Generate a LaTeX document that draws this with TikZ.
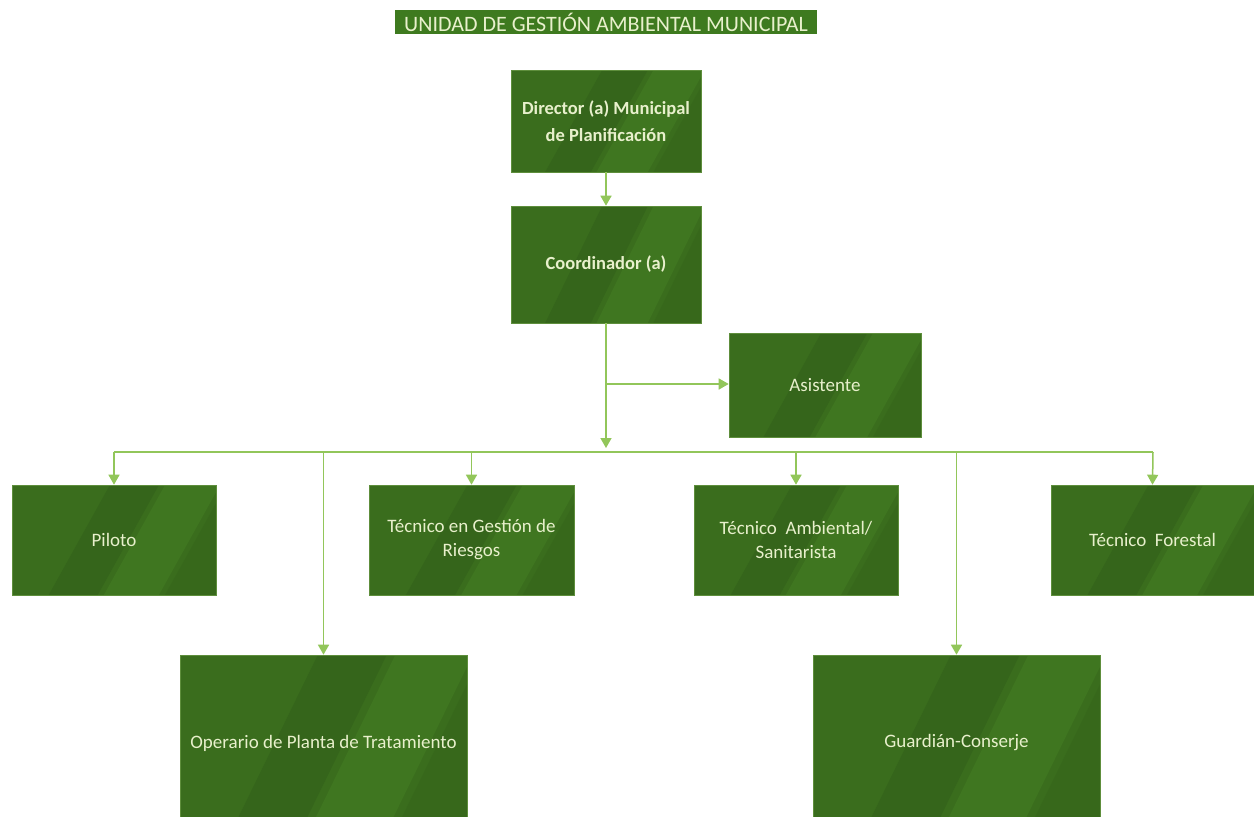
\documentclass[tikz,border=0pt]{standalone}
\usepackage{fontspec}
\setmainfont{Carlito}
\usetikzlibrary{calc,arrows.meta}
\definecolor{boxg}{HTML}{3A6D1D}
\definecolor{boxdark}{HTML}{35651B}
\definecolor{boxlight}{HTML}{3F7620}
\definecolor{edgeg}{HTML}{5E8E3C}
\definecolor{txtc}{HTML}{E8F0CC}
\definecolor{lineg}{HTML}{92C65A}
\definecolor{titleg}{HTML}{3E7A1F}
\tikzset{
  orgbox/.style={draw=edgeg, line width=0.6pt, fill=boxg, text=txtc,
    font=\fontsize{19}{24}\selectfont, align=center, inner sep=0pt,
    path picture={
      \fill[boxdark]
        ($(path picture bounding box.south west)!0.18!(path picture bounding box.south east)$) --
        ($(path picture bounding box.south west)!0.42!(path picture bounding box.south east)$) --
        ($(path picture bounding box.north west)!0.72!(path picture bounding box.north east)$) --
        ($(path picture bounding box.north west)!0.48!(path picture bounding box.north east)$) -- cycle;
      \fill[boxlight]
        ($(path picture bounding box.south west)!0.45!(path picture bounding box.south east)$) --
        ($(path picture bounding box.south west)!0.72!(path picture bounding box.south east)$) --
        ($(path picture bounding box.north west)!1.02!(path picture bounding box.north east)$) --
        ($(path picture bounding box.north west)!0.75!(path picture bounding box.north east)$) -- cycle;
      \fill[boxdark, opacity=0.6]
        ($(path picture bounding box.south west)!0.75!(path picture bounding box.south east)$) --
        ($(path picture bounding box.south west)!1.0!(path picture bounding box.south east)$) --
        ($(path picture bounding box.north west)!1.3!(path picture bounding box.north east)$) --
        ($(path picture bounding box.north west)!1.05!(path picture bounding box.north east)$) -- cycle;
    }},
  boldbox/.style={orgbox, font=\fontsize{18.5}{27}\selectfont\bfseries},
  bus/.style={draw=lineg, line width=1.5pt},
  conn/.style={draw=lineg, line width=1.5pt, -{Triangle[width=11pt,length=10pt]}},
}
\begin{document}
\begin{tikzpicture}[x=1pt,y=-1pt]
\useasboundingbox[fill=white] (0,0) rectangle (1254,817);

\node[fill=titleg, text=txtc, font=\fontsize{22}{24}\selectfont,
  minimum width=422pt, minimum height=24pt, inner sep=0pt] (title) at (606,22)
  {UNIDAD DE GESTIÓN AMBIENTAL MUNICIPAL};

\node[boldbox, minimum width=190pt, minimum height=102pt] (dir) at (606,121)
  {Director (a) Municipal\\de Planificación};
\node[boldbox, minimum width=190pt, minimum height=117pt] (coord) at (606,264.5)
  {Coordinador (a)};
\node[orgbox, minimum width=192pt, minimum height=104pt] (asis) at (825,385)
  {Asistente};

\node[orgbox, minimum width=204pt, minimum height=110pt] (piloto) at (114,540)
  {Piloto};
\node[orgbox, minimum width=205pt, minimum height=110pt] (riesgos) at (471.5,540)
  {Técnico en Gestión de\\Riesgos};
\node[orgbox, minimum width=204pt, minimum height=110pt] (amb) at (796,540)
  {Técnico~~Ambiental/\\Sanitarista};
\node[orgbox, minimum width=203pt, minimum height=110pt] (forest) at (1152.5,540)
  {Técnico~~Forestal};
\node[orgbox, minimum width=287pt, minimum height=176pt] (oper) at (323.5,743)
  {Operario de Planta de Tratamiento};
\node[orgbox, minimum width=287pt, minimum height=176pt] (guard) at (956.5,743)
  {Guardián-Conserje};

\coordinate (cend) at (606,448);
\coordinate (br) at (606,384);
\coordinate (busL) at (114,452);
\coordinate (busR) at (1153,452);

\draw[conn] (dir.south) -- (coord.north);
\draw[conn] (coord.south) -- (cend);
\draw[conn] (br) -- (asis.west |- br);
\draw[bus] (busL) -- (busR);
\draw[conn] (busL) -- (piloto.north);
\draw[conn] (riesgos.north |- busL) -- (riesgos.north);
\draw[conn] (amb.north |- busL) -- (amb.north);
\draw[conn] (busR) -- (forest.north);
\draw[conn] (oper.north |- busL) -- (oper.north);
\draw[conn] (guard.north |- busL) -- (guard.north);
\end{tikzpicture}
\end{document}
